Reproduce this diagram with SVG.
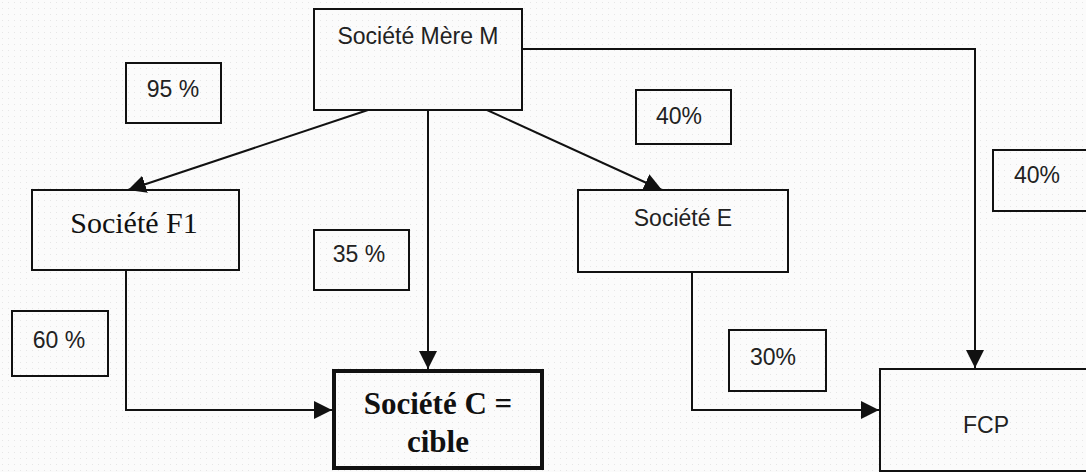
<svg xmlns="http://www.w3.org/2000/svg" width="1086" height="472" viewBox="0 0 1086 472">
<style>
.box{fill:none;stroke:#111;stroke-width:2}
.thick{fill:none;stroke:#111;stroke-width:4}
.sans{font-family:"Liberation Sans",Arial,sans-serif;font-size:23px;fill:#222;text-anchor:middle}
.serif{font-family:"Liberation Serif","Times New Roman",serif;font-size:30px;fill:#111;text-anchor:middle}
.bold{font-family:"Liberation Serif","Times New Roman",serif;font-size:31px;font-weight:bold;fill:#111;text-anchor:middle}
.conn{fill:none;stroke:#111;stroke-width:2}
</style>
<defs>
<pattern id="dots" width="6" height="6" patternUnits="userSpaceOnUse">
<rect width="6" height="6" fill="#fbfbfb"/>
<rect x="2" y="2" width="1" height="1" fill="#e6e6e6"/>
</pattern>
<marker id="arr" viewBox="0 0 18 18" refX="18" refY="9" markerWidth="18" markerHeight="18" markerUnits="userSpaceOnUse" orient="auto">
<path d="M0,0 L18,9 L0,18 Z" fill="#111"/>
</marker>
</defs>
<rect width="1086" height="472" fill="url(#dots)"/>
<g id="connectors">
<path class="conn" d="M368,110 L128,190" marker-end="url(#arr)"/>
<path class="conn" d="M428,110 L428,369" marker-end="url(#arr)"/>
<path class="conn" d="M487,110 L662,190" marker-end="url(#arr)"/>
<path class="conn" d="M522,49 L975,49 L975,368" marker-end="url(#arr)"/>
<path class="conn" d="M126,270 L126,410 L332,410" marker-end="url(#arr)"/>
<path class="conn" d="M692,272 L692,410 L879,410" marker-end="url(#arr)"/>
</g>
<g id="mere">
<rect class="box" x="314" y="9" width="208" height="101"/>
<text class="sans" x="418" y="44">Société Mère M</text>
</g>
<g id="f1">
<rect class="box" x="32" y="190" width="207" height="80"/>
<text class="serif" x="134" y="233">Société F1</text>
</g>
<g id="e">
<rect class="box" x="578" y="190" width="210" height="82"/>
<text class="sans" x="683" y="226">Société E</text>
</g>
<g id="cible">
<rect class="thick" x="334" y="371" width="208" height="97"/>
<text class="bold" x="438" y="414">Société C =</text>
<text class="bold" x="438" y="452">cible</text>
</g>
<g id="fcp">
<rect class="box" x="880" y="369" width="212" height="102"/>
<text class="sans" x="986" y="433">FCP</text>
</g>
<g id="l95">
<rect class="box" x="126" y="63" width="95" height="60"/>
<text class="sans" x="173" y="97">95 %</text>
</g>
<g id="l40a">
<rect class="box" x="636" y="90" width="95" height="54"/>
<text class="sans" x="679" y="124">40%</text>
</g>
<g id="l40b">
<rect class="box" x="993" y="150" width="100" height="61"/>
<text class="sans" x="1037" y="183">40%</text>
</g>
<g id="l35">
<rect class="box" x="314" y="230" width="95" height="60"/>
<text class="sans" x="359" y="262">35 %</text>
</g>
<g id="l60">
<rect class="box" x="12" y="311" width="96" height="65"/>
<text class="sans" x="59" y="348">60 %</text>
</g>
<g id="l30">
<rect class="box" x="729" y="330" width="97" height="61"/>
<text class="sans" x="773" y="365">30%</text>
</g>
</svg>
